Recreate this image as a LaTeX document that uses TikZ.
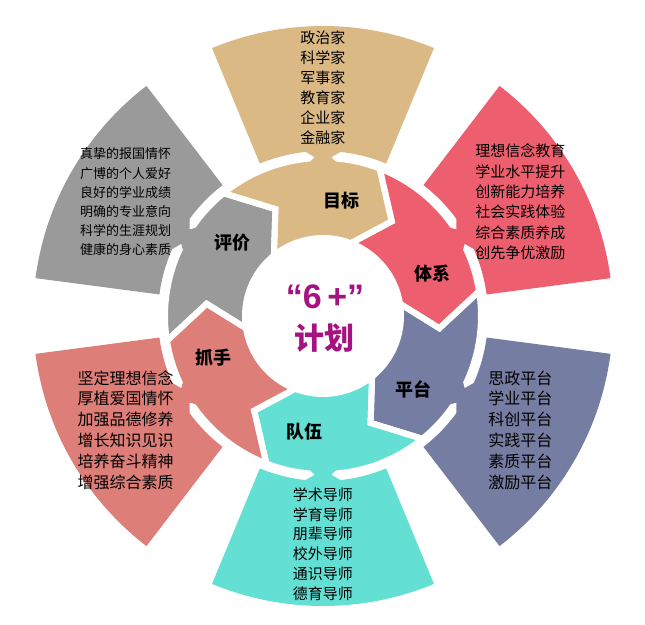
\documentclass[tikz,border=0pt]{standalone}
\usepackage{fontspec}
\setmainfont{Noto Sans CJK SC}
\newfontfamily\latinbold{Liberation Sans}
\usepackage{tikz}
\definecolor{plantan}{HTML}{DAB985}
\definecolor{planrose}{HTML}{ED5F6E}
\definecolor{planslate}{HTML}{767DA2}
\definecolor{planaqua}{HTML}{63DFD3}
\definecolor{plansalmon}{HTML}{DE7E79}
\definecolor{plangray}{HTML}{9A9A9A}
\definecolor{planmagenta}{HTML}{A6127F}

% #1 = centre angle of the group
\newcommand{\innerpiece}[1]{({#1+39}:158pt) arc[start angle={#1+39}, end angle={#1-21}, radius=158pt]
  -- ({#1-36}:117pt) -- ({#1-21}:78pt)
  arc[start angle={#1-21}, end angle={#1+39}, radius=78pt]
  -- ({#1+24}:117pt) -- cycle}
\newcommand{\outerpiece}[1]{({#1-22.5}:165pt) arc[start angle={#1-22.5}, end angle={#1+22.5}, radius=165pt]
  -- ({#1+22.5}:290pt) arc[start angle={#1+22.5}, end angle={#1-22.5}, radius=290pt] -- cycle}

\tikzset{
  ringlabel/.style={font=\fontsize{18pt}{20pt}\selectfont\bfseries},
  ringtext/.style={align=center, inner sep=0pt},
}

\begin{document}
\begin{tikzpicture}[x=1pt,y=1pt]
  \useasboundingbox (-323pt,-308pt) rectangle (322pt,316pt);
  % sectors
  \foreach \ang/\col in {90/plantan,30/planrose,-30/planslate,-90/planaqua,-150/plansalmon,150/plangray}{
    \fill[\col] \outerpiece{\ang};
    \fill[\col] \innerpiece{\ang};
  }
  % white gaps between the arrows
  \foreach \ang in {90,30,-30,-90,-150,150}
    \draw[white, line width=6pt] \innerpiece{\ang};
  % necks joining inner and outer parts
  \foreach \ang/\col in {90/plantan,30/planrose,-30/planslate,-90/planaqua,-150/plansalmon,150/plangray}
    \fill[\col] ({\ang+7}:167pt) -- ({\ang+3}:159pt) -- ({\ang+7}:150pt)
      -- ({\ang-7}:150pt) -- ({\ang-3}:159pt) -- ({\ang-7}:167pt) -- cycle;

  % labels and lists
  \foreach \ang/\lab/\fs/\sk/\txt [count=\k] in {
    90/目标/15/20/{政治家\\科学家\\军事家\\教育家\\企业家\\金融家},
    30/体系/15/20.4/{理想信念教育\\学业水平提升\\创新能力培养\\社会实践体验\\综合素质养成\\创先争优激励},
    -30/平台/16/20.8/{思政平台\\学业平台\\科创平台\\实践平台\\素质平台\\激励平台},
    -90/队伍/15/19.8/{学术导师\\学育导师\\朋辈导师\\校外导师\\通识导师\\德育导师},
    -150/抓手/16/20.8/{坚定理想信念\\厚植爱国情怀\\加强品德修养\\增长知识见识\\培养奋斗精神\\增强综合素质},
    150/评价/13/19.2/{真挚的报国情怀\\广博的个人爱好\\良好的学业成绩\\明确的专业意向\\科学的生涯规划\\健康的身心素质}}{
    \node[ringlabel] (lab\k) at ({\ang-9}:117pt) {\lab};
    \node[ringtext, font=\fontsize{\fs pt}{\sk pt}\selectfont] (list\k) at (\ang:228pt) {\txt};
  }

  % centre
  \node[font=\latinbold\fontsize{34pt}{36pt}\selectfont\bfseries, text=planmagenta] (plantitle) at (2,19) {“6\,+”};
  \node[font=\fontsize{30pt}{32pt}\selectfont\bfseries, text=planmagenta] (planname) at (2,-22) {计划};
\end{tikzpicture}
\end{document}
